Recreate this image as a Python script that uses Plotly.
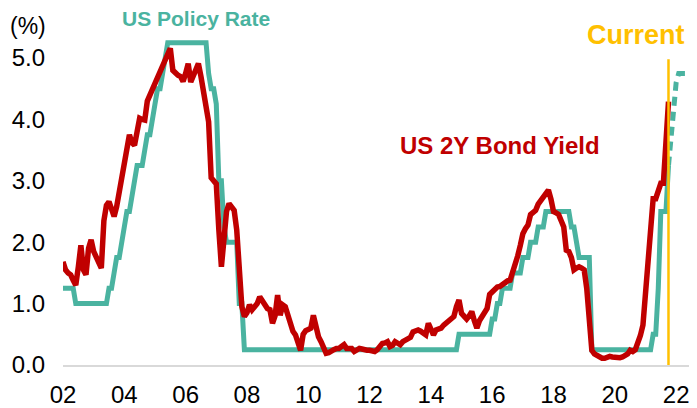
import plotly.graph_objects as go

# ---------------- data (monthly, starting Jan of label-year "02") ----------------
start_year = 2002

us_2y_yield = [
    # 02
    1.68, 1.55, 1.50, 1.47, 1.38, 1.30, 1.60, 1.95, 1.55, 1.47, 1.90, 2.04,
    # 03
    1.85, 1.76, 1.65, 1.58, 2.35, 2.60, 2.66, 2.50, 2.42, 2.58, 2.80, 3.01,
    # 04
    3.30, 3.50, 3.75, 3.62, 3.58, 3.80, 4.02, 4.00, 3.99, 4.30, 4.40, 4.45,
    # 05
    4.55, 4.70, 4.78, 4.90, 4.97, 5.05, 5.16, 4.80, 4.75, 4.72, 4.70, 4.62,
    # 06
    4.75, 4.91, 4.61, 4.72, 4.80, 4.91, 4.70, 4.40, 4.15, 3.96, 3.05, 3.01,
    # 07
    2.95, 2.20, 1.60, 2.04, 2.50, 2.63, 2.58, 2.52, 2.20, 1.55, 0.95, 0.79,
    # 08
    0.85, 0.98, 0.90, 0.95, 1.00, 1.11, 1.05, 1.00, 0.92, 0.90, 0.68, 0.80,
    # 09
    1.14, 0.81, 0.98, 0.95, 0.80, 0.62, 0.55, 0.49, 0.35, 0.24, 0.50, 0.56,
    # 10
    0.58, 0.60, 0.81, 0.60, 0.46, 0.38, 0.30, 0.19, 0.20, 0.24, 0.25, 0.27,
    # 11
    0.27, 0.30, 0.33, 0.27, 0.27, 0.27, 0.22, 0.25, 0.27, 0.26, 0.24, 0.24,
    # 12
    0.24, 0.24, 0.22, 0.25, 0.30, 0.35, 0.36, 0.38, 0.30, 0.32, 0.38, 0.35,
    # 13
    0.33, 0.38, 0.41, 0.43, 0.45, 0.54, 0.55, 0.57, 0.55, 0.52, 0.49, 0.68,
    # 14
    0.55, 0.49, 0.57, 0.58, 0.60, 0.65, 0.68, 0.73, 0.76, 0.79, 0.95, 1.06,
    # 15
    0.84, 0.78, 0.75, 0.80, 0.87, 0.72, 0.60, 0.72, 0.79, 0.85, 0.92, 1.15,
    # 16
    1.20, 1.25, 1.27, 1.28, 1.32, 1.35, 1.37, 1.38, 1.50, 1.62, 1.78, 1.95,
    # 17
    2.14, 2.22, 2.28, 2.45, 2.50, 2.52, 2.62, 2.68, 2.71, 2.80, 2.85, 2.70,
    # 18
    2.50, 2.48, 2.45, 2.35, 2.25, 1.87, 1.85, 1.75, 1.55, 1.58, 1.60, 1.58,
    # 19
    1.55, 1.25, 0.75, 0.24, 0.18, 0.15, 0.13, 0.11, 0.11, 0.13, 0.14, 0.13,
    # 20
    0.12, 0.11, 0.12, 0.13, 0.15, 0.18, 0.24, 0.22, 0.25, 0.35, 0.48, 0.65,
    # 21
    1.20, 1.55, 2.20, 2.71, 2.71, 2.85, 2.96, 2.96, 3.64, 4.29,
]

us_policy_rate = [
    # 02
    1.25, 1.25, 1.25, 1.25, 1.25, 1.00, 1.00, 1.00, 1.00, 1.00, 1.00, 1.00,
    # 03
    1.00, 1.00, 1.00, 1.00, 1.00, 1.00, 1.25, 1.25, 1.50, 1.75, 1.75, 2.00,
    # 04
    2.25, 2.50, 2.50, 2.75, 3.00, 3.25, 3.25, 3.25, 3.50, 3.75, 3.75, 4.00,
    # 05
    4.25, 4.50, 4.50, 4.75, 5.00, 5.25, 5.25, 5.25, 5.25, 5.25, 5.25, 5.25,
    # 06
    5.25, 5.25, 5.25, 5.25, 5.25, 5.25, 5.25, 5.25, 5.25, 4.75, 4.50, 4.50,
    # 07
    4.25, 3.00, 3.00, 2.25, 2.00, 2.00, 2.00, 2.00, 2.00, 1.00, 1.00, 0.25,
    # 08
    0.25, 0.25, 0.25, 0.25, 0.25, 0.25, 0.25, 0.25, 0.25, 0.25, 0.25, 0.25,
    # 09
    0.25, 0.25, 0.25, 0.25, 0.25, 0.25, 0.25, 0.25, 0.25, 0.25, 0.25, 0.25,
    # 10
    0.25, 0.25, 0.25, 0.25, 0.25, 0.25, 0.25, 0.25, 0.25, 0.25, 0.25, 0.25,
    # 11
    0.25, 0.25, 0.25, 0.25, 0.25, 0.25, 0.25, 0.25, 0.25, 0.25, 0.25, 0.25,
    # 12
    0.25, 0.25, 0.25, 0.25, 0.25, 0.25, 0.25, 0.25, 0.25, 0.25, 0.25, 0.25,
    # 13
    0.25, 0.25, 0.25, 0.25, 0.25, 0.25, 0.25, 0.25, 0.25, 0.25, 0.25, 0.25,
    # 14
    0.25, 0.25, 0.25, 0.25, 0.25, 0.25, 0.25, 0.25, 0.25, 0.25, 0.25, 0.50,
    # 15
    0.50, 0.50, 0.50, 0.50, 0.50, 0.50, 0.50, 0.50, 0.50, 0.50, 0.50, 0.50,
    # 16
    0.75, 0.75, 1.00, 1.00, 1.25, 1.25, 1.25, 1.25, 1.50, 1.50, 1.50, 1.50,
    # 17
    1.75, 1.75, 1.75, 2.00, 2.00, 2.00, 2.25, 2.25, 2.25, 2.50, 2.50, 2.50,
    # 18
    2.50, 2.50, 2.50, 2.50, 2.50, 2.50, 2.50, 2.25, 2.25, 2.00, 1.75, 1.75,
    # 19
    1.75, 1.75, 1.75, 0.25, 0.25, 0.25, 0.25, 0.25, 0.25, 0.25, 0.25, 0.25,
    # 20
    0.25, 0.25, 0.25, 0.25, 0.25, 0.25, 0.25, 0.25, 0.25, 0.25, 0.25, 0.25,
    # 21
    0.25, 0.25, 0.25, 0.50, 0.50, 1.25, 2.50, 2.50, 2.50, 3.25,
]

# projected policy path (dashed), starting at the current month
policy_projection = [3.25, 3.75, 4.25, 4.60, 4.75, 4.75, 4.75, 4.75, 4.75, 4.75, 4.75, 4.75]

current_date = 2021.75
current_line_top = 4.98

tick_years = [2002, 2004, 2006, 2008, 2010, 2012, 2014, 2016, 2018, 2020, 2022]
tick_labels = ["02", "04", "06", "08", "10", "12", "14", "16", "18", "20", "22"]
y_ticks = [0, 1, 2, 3, 4, 5]
y_tick_labels = ["0.0", "1.0", "2.0", "3.0", "4.0", "5.0"]

# ---------------- styling ----------------
TEAL = "#4AB3A0"
RED = "#C00000"
GOLD = "#FFC000"
FONT = "Liberation Sans, Arial, sans-serif"

month_x = [start_year + i / 12 for i in range(len(us_2y_yield))]
policy_x = [start_year + i / 12 for i in range(len(us_policy_rate))]
proj_x = [current_date + i / 12 for i in range(len(policy_projection))]

fig = go.Figure()
fig.add_trace(go.Scatter(x=policy_x, y=us_policy_rate, mode="lines",
                         line=dict(color=TEAL, width=5), name="US Policy Rate"))
fig.add_trace(go.Scatter(x=proj_x, y=policy_projection, mode="lines",
                         line=dict(color=TEAL, width=5, dash="9px,6px"), name="Projection"))
fig.add_trace(go.Scatter(x=month_x, y=us_2y_yield, mode="lines",
                         line=dict(color=RED, width=5.5), name="US 2Y Bond Yield"))

fig.add_shape(type="line", xref="x", yref="y", x0=current_date, x1=current_date,
              y0=0, y1=current_line_top, line=dict(color=GOLD, width=2.5), layer="above")

fig.add_annotation(xref="paper", yref="paper", x=0.2098, y=1.004, text="<b>US Policy Rate</b>",
                   showarrow=False, font=dict(family=FONT, size=21, color=TEAL),
                   xanchor="center", yanchor="middle", borderpad=0)
fig.add_annotation(xref="paper", yref="paper", x=0.903, y=0.9565, text="<b>Current</b>",
                   showarrow=False, font=dict(family=FONT, size=27, color=GOLD),
                   xanchor="center", yanchor="middle")
fig.add_annotation(xref="paper", yref="paper", x=0.6885, y=0.6348, text="<b>US 2Y Bond Yield</b>",
                   showarrow=False, font=dict(family=FONT, size=24, color=RED),
                   xanchor="center", yanchor="middle")
fig.add_annotation(xref="paper", yref="paper", x=-0.0868, y=0.9826, text="(%)",
                   showarrow=False, font=dict(family=FONT, size=23, color="#000000"),
                   xanchor="left", yanchor="middle")

# the page body adds an 8px offset, so the figure is 8px smaller than the window
fig.update_layout(
    width=689, height=400,
    margin=dict(l=55, r=0, t=12, b=43, pad=0),
    paper_bgcolor="white", plot_bgcolor="white",
    showlegend=False,
    font=dict(family=FONT, size=24, color="#000000"),
)
fig.update_xaxes(range=[2002, 2022.68], tickmode="array", tickvals=tick_years, ticktext=tick_labels,
                 showgrid=False, zeroline=False, showline=True, linecolor="#D9D9D9", linewidth=2,
                 ticks="", ticklabelstandoff=7, tickfont=dict(size=24, color="#000000"))
fig.update_yaxes(range=[0, 5.62], tickmode="array", tickvals=y_ticks, ticktext=y_tick_labels,
                 showgrid=False, zeroline=False, showline=False, ticks="",
                 ticklabelstandoff=17, tickfont=dict(size=24, color="#000000"))

fig.write_html("out.html")
